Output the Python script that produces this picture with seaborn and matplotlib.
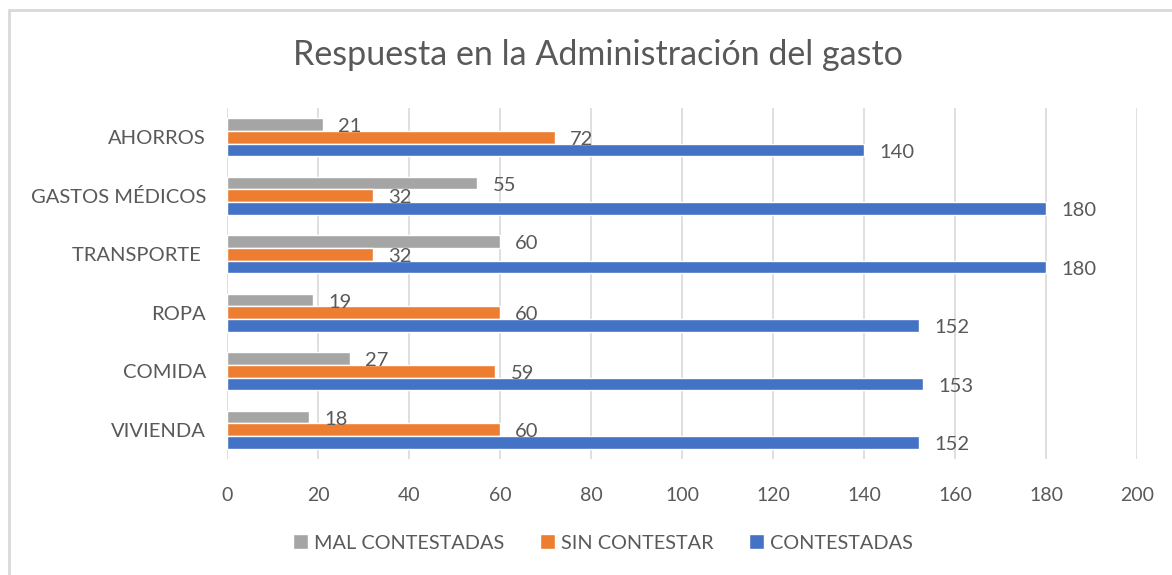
import pandas as pd
import numpy as np
import matplotlib.pyplot as plt
import seaborn as sns
from matplotlib.lines import Line2D
from matplotlib.patches import Patch

categorias = ['AHORROS', 'GASTOS MÉDICOS', 'TRANSPORTE ', 'ROPA', 'COMIDA', 'VIVIENDA']
series = ['MAL CONTESTADAS', 'SIN CONTESTAR', 'CONTESTADAS']
mal_contestadas = [21, 55, 60, 19, 27, 18]
sin_contestar = [72, 32, 32, 60, 59, 60]
contestadas = [140, 180, 180, 152, 153, 152]
colores = ['#A5A5A5', '#ED7D31', '#4472C4']
x_ticks = [0, 20, 40, 60, 80, 100, 120, 140, 160, 180, 200]

df = pd.DataFrame({
    'categoria': categorias * 3,
    'serie': np.repeat(series, len(categorias)),
    'valor': mal_contestadas + sin_contestar + contestadas,
})

sns.set_style('white')
plt.rcParams['font.family'] = ['Lato', 'DejaVu Sans']
gris_txt = '#595959'

fig = plt.figure(figsize=(11.72, 5.75), dpi=100)
ax = fig.add_axes([227 / 1172, 1 - 459 / 575, 910 / 1172, 351 / 575])

sns.barplot(data=df, y='categoria', x='valor', hue='serie', order=categorias,
            hue_order=series, palette=colores, orient='h', width=0.65,
            saturation=1, ax=ax, legend=False)

# etiquetas de datos un poco a la derecha y abajo, como en Excel
for cont in ax.containers:
    for rect in cont:
        ax.annotate(f'{rect.get_width():.0f}',
                    (rect.get_width(), rect.get_y() + rect.get_height() / 2),
                    xytext=(11, -1.5), textcoords='offset points',
                    ha='left', va='center', fontsize=14.5, color=gris_txt)

ax.set_xlim(0, 200)
ax.set_ylim(len(categorias) - 0.5, -0.5)
ax.set_xticks(x_ticks)
ax.xaxis.grid(True, color='#D9D9D9', linewidth=1.2)
ax.set_axisbelow(True)
for s in ax.spines.values():
    s.set_visible(False)
ax.tick_params(axis='both', length=0, colors=gris_txt, labelsize=14)
ax.tick_params(axis='x', pad=20)
ax.tick_params(axis='y', pad=15)
ax.set_yticklabels(categorias, fontsize=14.5)
ax.set_xlabel('')
ax.set_ylabel('')

fig.text(598 / 1172, 1 - 55 / 575, 'Respuesta en la Administración del gasto',
         ha='center', va='center', fontsize=24.5, color=gris_txt)

handles = [Patch(facecolor=c, label=s) for c, s in zip(colores, series)]
fig.legend(handles=handles, loc='center', bbox_to_anchor=(603 / 1172, 1 - 543 / 575),
           ncol=3, frameon=False, fontsize=14.3, labelcolor=gris_txt,
           handlelength=0.75, handleheight=0.75, handletextpad=0.3, columnspacing=1.8)

# marco del grafico (solo borde superior e izquierdo visibles)
fig.add_artist(Line2D([9 / 1172, 9 / 1172], [0, 1 - 10 / 575], transform=fig.transFigure,
                      color='#D9D9D9', linewidth=2))
fig.add_artist(Line2D([9 / 1172, 1], [1 - 10 / 575, 1 - 10 / 575], transform=fig.transFigure,
                      color='#D9D9D9', linewidth=2))

fig.savefig('out.png', dpi=100)
